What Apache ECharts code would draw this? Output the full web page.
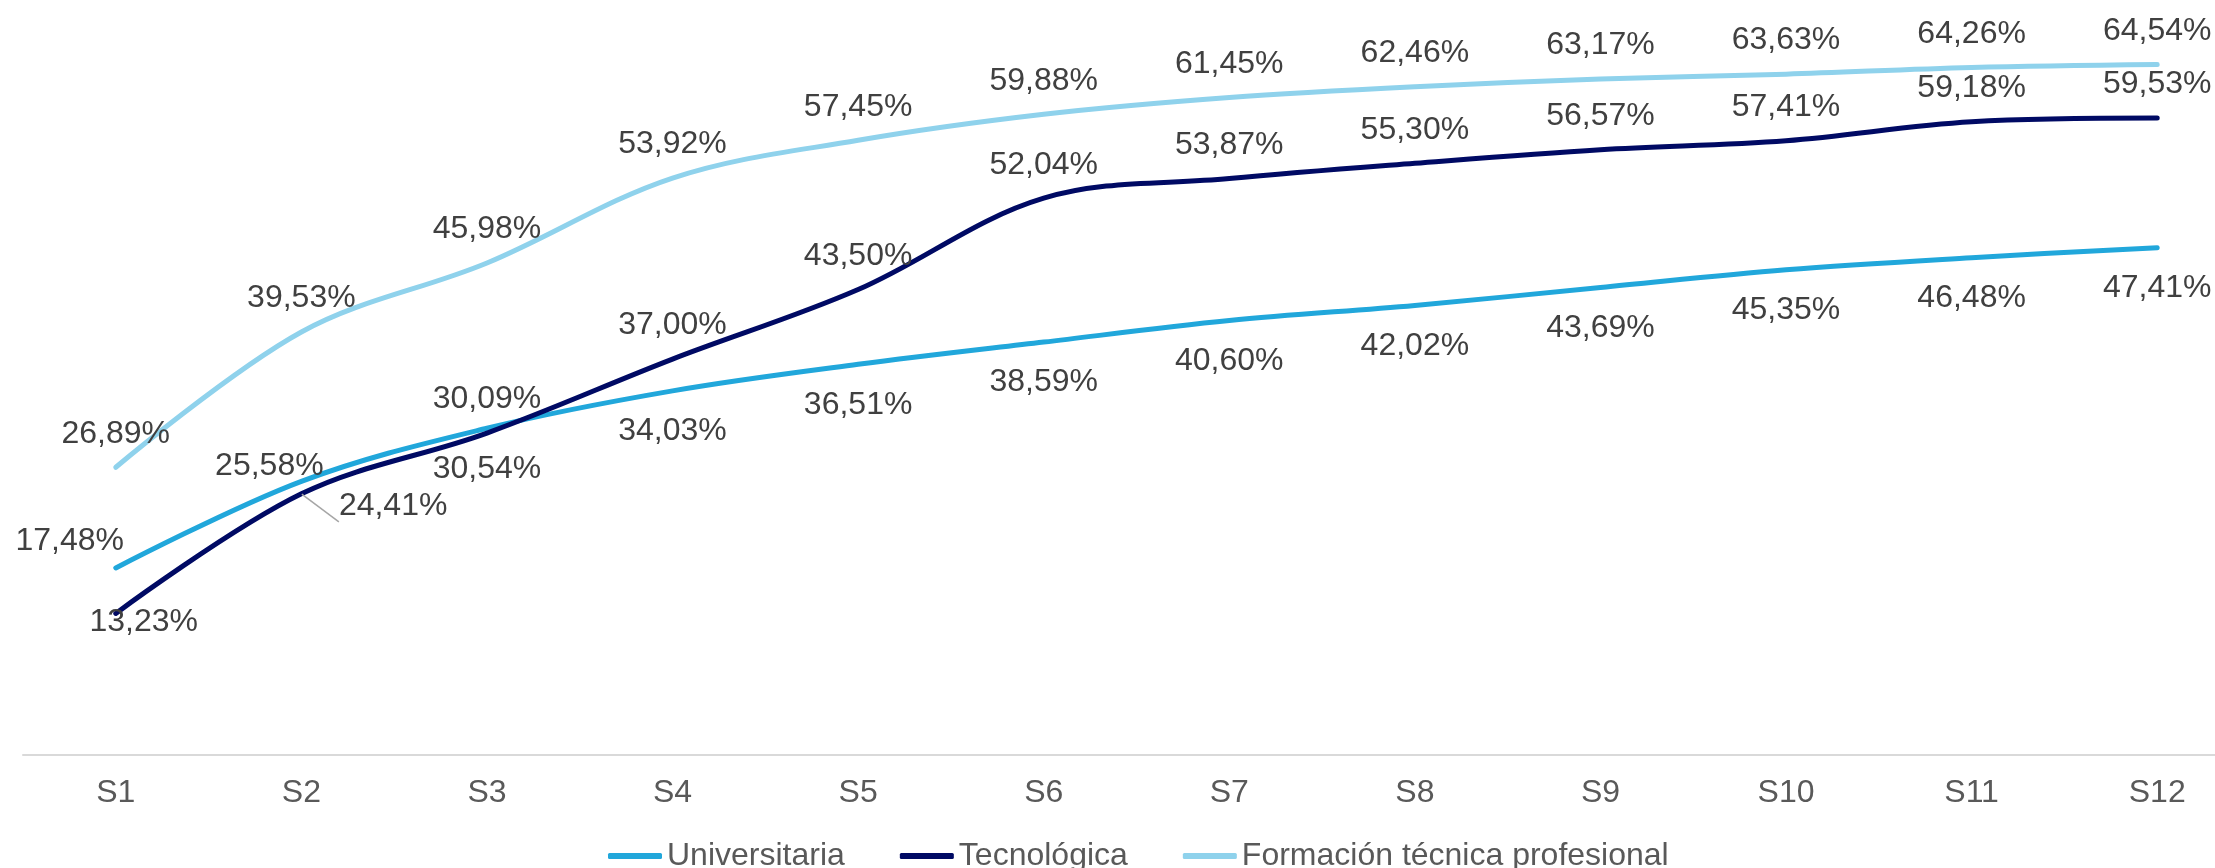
<!DOCTYPE html>
<html><head><meta charset="utf-8">
<script src="https://cdn.jsdelivr.net/npm/echarts@6/dist/echarts.min.js"></script>
<style>html,body{margin:0;padding:0;background:#fff}#c{width:2215px;height:868px}</style>
</head><body><div id="c"></div>
<script>
const categories = ['S1','S2','S3','S4','S5','S6','S7','S8','S9','S10','S11','S12'];
const universitaria = [17.48,25.58,30.54,34.03,36.51,38.59,40.60,42.02,43.69,45.35,46.48,47.41];
const tecnologica = [13.23,24.41,30.09,37.00,43.50,52.04,53.87,55.30,56.57,57.41,59.18,59.53];
const formacion = [26.89,39.53,45.98,53.92,57.45,59.88,61.45,62.46,63.17,63.63,64.26,64.54];
const seriesNames = ['Universitaria','Tecnológica','Formación técnica profesional'];

const FONT = '"Liberation Sans", Arial, sans-serif';
const colors = ['#21A7DB', '#000A64', '#8FD2EC'];
const DIST = { top: 17, bottom: 24, right: 37 };
// label placement styles (not data)
const placements = [
  { def: 'bottom', over: { 0: {position:'top', offset:[-46,7]}, 1: {position:'top', offset:[-32,18]} } },
  { def: 'top', over: { 0: {position:'bottom', offset:[28,-32]}, 1: {position:'right', offset:[0,12], guide:true} } },
  { def: 'top', over: {} }
];
const fmt = v => v.toFixed(2).replace('.', ',') + '%';

function buildData(values, pl) {
  return values.map((v, i) => {
    const o = pl.over[i];
    const item = { value: v };
    if (o) {
      item.label = { position: o.position, offset: o.offset, distance: DIST[o.position] };
      if (o.guide) item.labelLine = { show: true, lineStyle: { color: '#A6A6A6', width: 1.5 } };
    }
    return item;
  });
}

const allValues = [universitaria, tecnologica, formacion];
const chart = echarts.init(document.getElementById('c'), null, { renderer: 'canvas' });
chart.setOption({
  animation: false,
  backgroundColor: '#ffffff',
  textStyle: { fontFamily: FONT },
  grid: { left: 23, top: 6, right: -35, height: 749, containLabel: false, outerBoundsMode: 'none' },
  legend: {
    left: 603, top: 835,
    icon: 'roundRect', itemWidth: 54, itemHeight: 6, itemGap: 55,
    textStyle: { fontSize: 32, color: '#595959', fontFamily: FONT },
    data: seriesNames
  },
  xAxis: {
    type: 'category', data: categories, boundaryGap: true,
    axisLine: { lineStyle: { color: '#D9D9D9', width: 2 } },
    axisTick: { show: false },
    axisLabel: { fontSize: 32, color: '#595959', margin: 22, fontFamily: FONT }
  },
  yAxis: { type: 'value', min: 0, max: 70, show: false, splitLine: { show: false } },
  series: allValues.map((vals, s) => ({
    name: seriesNames[s],
    type: 'line',
    smooth: 0.35,
    symbol: 'circle', symbolSize: 1, showSymbol: true,
    itemStyle: { color: colors[s] },
    lineStyle: { color: colors[s], width: 5, cap: 'round', join: 'round' },
    label: {
      show: true, position: placements[s].def, distance: DIST[placements[s].def],
      fontSize: 32, color: '#404040', fontFamily: FONT,
      formatter: p => fmt(p.value)
    },
    labelLine: { show: false },
    data: buildData(vals, placements[s])
  }))
});
</script>
</body></html>
